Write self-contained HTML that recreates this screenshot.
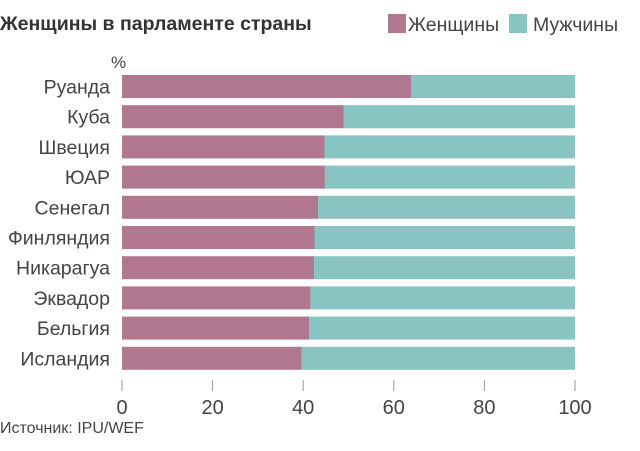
<!DOCTYPE html>
<html><head><meta charset="utf-8"><style>
body{margin:0;background:#fff;width:640px;height:446px;overflow:hidden;font-family:"Liberation Sans",sans-serif}
</style></head><body>
<svg width="640" height="446" font-family="Liberation Sans, sans-serif">
<text x="0" y="30" font-size="19.5" font-weight="bold" fill="#333">Женщины в парламенте страны</text>
<rect x="388" y="14" width="18" height="19" fill="#b0778f"/>
<text x="408" y="31" font-size="19.5" fill="#444">Женщины</text>
<rect x="509" y="14" width="18" height="19" fill="#88c4c1"/>
<text x="533" y="31" font-size="19.5" fill="#444">Мужчины</text>
<text x="111" y="68" font-size="17" fill="#444">%</text>
<g id="bars"></g><g id="axis"></g>
<text x="0" y="433" font-size="16" fill="#444">Источник: IPU/WEF</text>
</svg>
<script>
const categories=["Руанда","Куба","Швеция","ЮАР","Сенегал","Финляндия","Никарагуа","Эквадор","Бельгия","Исландия"];
const women=[63.8,48.9,44.7,44.8,43.3,42.5,42.4,41.6,41.3,39.7];
const ticks=[0,20,40,60,80,100];
const NS="http://www.w3.org/2000/svg";
const x=v=>122+v*4.53;
const y=i=>75+i*30.2;
const bh=23;
function mk(t,a,p){const e=document.createElementNS(NS,t);for(const k in a)e.setAttribute(k,a[k]);p.appendChild(e);return e;}
const gb=document.getElementById('bars');
categories.forEach((c,i)=>{
 const w=mk('rect',{x:x(0),y:y(i),width:x(women[i])-x(0),height:bh,fill:'#b0778f'},gb);
 
 
 const m=mk('rect',{x:x(women[i]),y:y(i),width:x(100)-x(women[i]),height:bh,fill:'#88c4c1'},gb);
 
 
 const t=mk('text',{x:110,y:y(i)+bh/2+7,'text-anchor':'end','font-size':19.5,fill:'#444'},gb);
 t.textContent=c;
 
 
});
const ga=document.getElementById('axis');
ticks.forEach(v=>{
 const l=mk('line',{x1:x(v),x2:x(v),y1:380,y2:391,stroke:'#999','stroke-width':1},ga);
 
 
 const t=mk('text',{x:x(v),y:414,'text-anchor':'middle','font-size':20,fill:'#444'},ga);
 t.textContent=v;
 
 
});
</script>
</body></html>
